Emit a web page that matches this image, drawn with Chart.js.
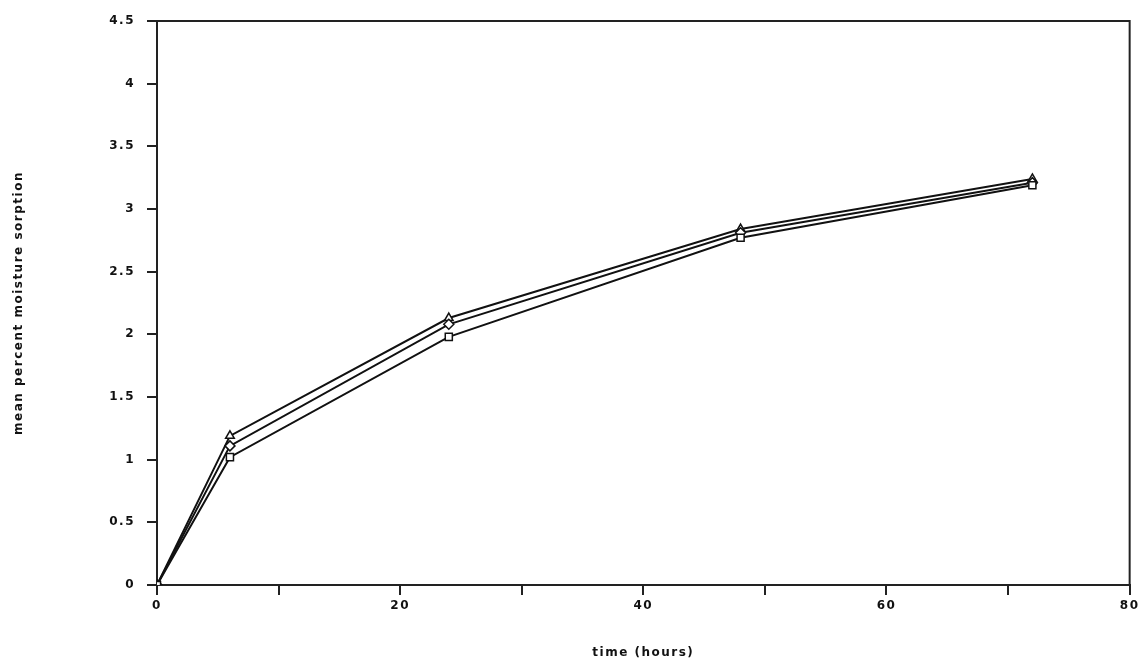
<!DOCTYPE html>
<html>
<head>
<meta charset="utf-8">
<script src="https://cdn.jsdelivr.net/npm/chart.js@4"></script>
<style>
  html, body { margin: 0; padding: 0; background: #fff; }
  #wrap { width: 1142px; height: 664px; position: relative; }
</style>
</head>
<body>
<div id="wrap"><canvas id="c" width="1142" height="664"></canvas></div>
<script>
const timeHours = [0, 6, 24, 48, 72];
const seriesSquare = [0, 1.02, 1.98, 2.77, 3.19];
const seriesDiamond = [0, 1.11, 2.08, 2.81, 3.21];
const seriesTriangle = [0, 1.19, 2.13, 2.84, 3.24];
const xTickLabels = ['0', '20', '40', '60', '80'];
const yTickLabels = ['0', '0.5', '1', '1.5', '2', '2.5', '3', '3.5', '4', '4.5'];

function pts(ys) { return timeHours.map((x, i) => ({ x: x, y: ys[i] })); }

const boxPlugin = {
  id: 'box',
  beforeDraw(chart) {
    chart.ctx.letterSpacing = '1.5px';
  },
  afterDraw(chart) {
    const a = chart.chartArea, ctx = chart.ctx;
    ctx.save();
    ctx.strokeStyle = '#222';
    ctx.lineWidth = 2;
    ctx.beginPath();
    ctx.moveTo(a.left, a.top);
    ctx.lineTo(a.right, a.top);
    ctx.lineTo(a.right, a.bottom);
    ctx.stroke();
    ctx.restore();
  }
};

const font = { family: 'DejaVu Sans', size: 12, weight: 'bold' };
const common = { borderColor: '#111', borderWidth: 2, pointBorderColor: '#111', pointBackgroundColor: '#fff', pointBorderWidth: 1.5, pointRadius: 5, tension: 0, fill: false };

new Chart(document.getElementById('c'), {
  type: 'line',
  data: {
    datasets: [
      Object.assign({ label: 'square', data: pts(seriesSquare), pointStyle: 'rect' }, common),
      Object.assign({ label: 'diamond', data: pts(seriesDiamond), pointStyle: 'rectRot' }, common),
      Object.assign({ label: 'triangle', data: pts(seriesTriangle), pointStyle: 'triangle', pointBackgroundColor: '#111' }, common)
    ]
  },
  options: {
    responsive: false,
    animation: false,
    layout: { padding: { left: 0, right: 12, top: 21, bottom: 0 } },
    plugins: { legend: { display: false }, tooltip: { enabled: false } },
    scales: {
      x: {
        type: 'linear', min: 0, max: 80,
        afterBuildTicks(s) { s.ticks = [0,10,20,30,40,50,60,70,80].map(v => ({ value: v })); },
        afterFit(s) { s.height = 79; },
        ticks: {
          color: '#111', font: font, padding: 4, maxRotation: 0,
          callback(v) { return v % 20 === 0 ? xTickLabels[v / 20] : ''; }
        },
        grid: { display: true, drawOnChartArea: false, drawTicks: true, tickLength: 10, color: '#222', lineWidth: 2 },
        border: { display: true, color: '#222', width: 2 },
        title: { display: true, text: 'time (hours)', color: '#111', font: font, padding: { top: 16 } }
      },
      y: {
        type: 'linear', min: 0, max: 4.5,
        afterBuildTicks(s) { s.ticks = yTickLabels.map((t, i) => ({ value: i * 0.5 })); },
        afterFit(s) { s.width = 157; },
        ticks: {
          color: '#111', font: font, padding: 12,
          callback(v) { return yTickLabels[Math.round(v * 2)]; }
        },
        grid: { display: true, drawOnChartArea: false, drawTicks: true, tickLength: 10, color: '#222', lineWidth: 2 },
        border: { display: true, color: '#222', width: 2 },
        title: { display: true, text: 'mean percent moisture sorption', color: '#111', font: { family: 'DejaVu Sans', size: 12, weight: 'bold' }, padding: { top: 12, bottom: 0 } }
      }
    }
  },
  plugins: [boxPlugin]
});
</script>
</body>
</html>
